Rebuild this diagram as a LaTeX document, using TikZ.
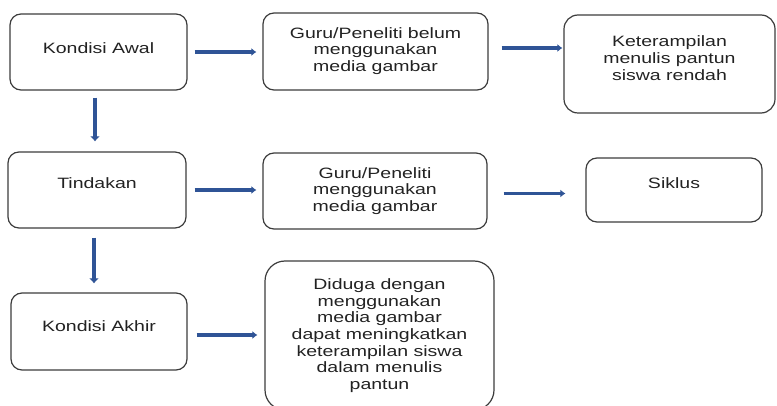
\documentclass[tikz,border=0pt]{standalone}
\usepackage{fontspec}
\setmainfont{Liberation Sans}[FakeStretch=1.3]
\usetikzlibrary{arrows.meta}
\definecolor{boxgray}{HTML}{3C3C3C}
\definecolor{txtgray}{HTML}{222222}
\definecolor{arrowblue}{RGB}{47,84,150}
\tikzset{
  box/.style={draw=boxgray, line width=1.2pt, rounded corners=11pt, inner sep=0pt,
    align=center, text=txtgray, font=\fontsize{15}{16.7}\selectfont},
  flow/.style={draw=arrowblue, line width=3.2pt, -{Latex[length=5pt,width=8pt]}},
  downflow/.style={flow, line width=4.5pt, -{Latex[length=5pt,width=10pt]}}
}
\begin{document}
\begin{tikzpicture}[x=1pt, y=-1pt]
    \useasboundingbox (0,0) rectangle (777,406);
    % Boxes
    \node[box, minimum width=177pt, minimum height=76pt, text height=11pt, text depth=8.4pt] (awal) at (98.5,52) {Kondisi Awal};
    \node[box, minimum width=225pt, minimum height=77pt, text depth=4pt] (belum) at (375.5,51.5) {Guru/Peneliti belum\\menggunakan\\media gambar};
    \node[box, rounded corners=14pt, minimum width=211pt, minimum height=98pt, text depth=12pt] (ket) at (669.5,64) {Keterampilan\\menulis pantun\\siswa rendah};
    \node[box, minimum width=178pt, minimum height=76pt, text height=11pt, text depth=13pt] (tindakan) at (97,190) {Tindakan};
    \node[box, minimum width=224pt, minimum height=76pt, text depth=3pt] (guru) at (375,191) {Guru/Peneliti\\menggunakan\\media gambar};
    \node[box, minimum width=176pt, minimum height=64pt, text height=11pt, text depth=13pt] (siklus) at (674,190) {Siklus};
    \node[box, minimum width=176pt, minimum height=77pt, text height=11pt, text depth=10.6pt] (akhir) at (99,331.5) {Kondisi Akhir};
    \node[box, rounded corners=20pt, minimum width=229pt, minimum height=149pt, text depth=3pt] (diduga) at (379.5,335.5) {Diduga dengan\\menggunakan\\media gambar\\dapat meningkatkan\\keterampilan siswa\\dalam menulis\\pantun};

    % Connections
    \draw[flow, shorten <=7pt, shorten >=6pt] (awal.east) -- (awal.east -| belum.west);
    \draw[flow, shorten <=13pt, shorten >=1pt] ([yshift=3.5pt]belum.east) -- ([yshift=3.5pt]belum.east -| ket.west);
    \draw[flow, shorten <=8pt, shorten >=6pt] (tindakan.east) -- (tindakan.east -| guru.west);
    \draw[flow, shorten <=16pt, shorten >=20pt] ([yshift=-2.5pt]guru.east) -- ([yshift=-2.5pt]guru.east -| siklus.west);
    \draw[flow, shorten <=9pt, shorten >=7pt] ([yshift=-3.5pt]akhir.east) -- ([yshift=-3.5pt]akhir.east -| diduga.west);
    \draw[downflow, shorten <=7pt, shorten >=10pt] ([xshift=-3.5pt]awal.south) -- ([xshift=-3.5pt]awal.south |- tindakan.north);
    \draw[downflow, shorten <=9pt, shorten >=9pt] ([xshift=-3pt]tindakan.south) -- ([xshift=-3pt]tindakan.south |- akhir.north);
\end{tikzpicture}
\end{document}
